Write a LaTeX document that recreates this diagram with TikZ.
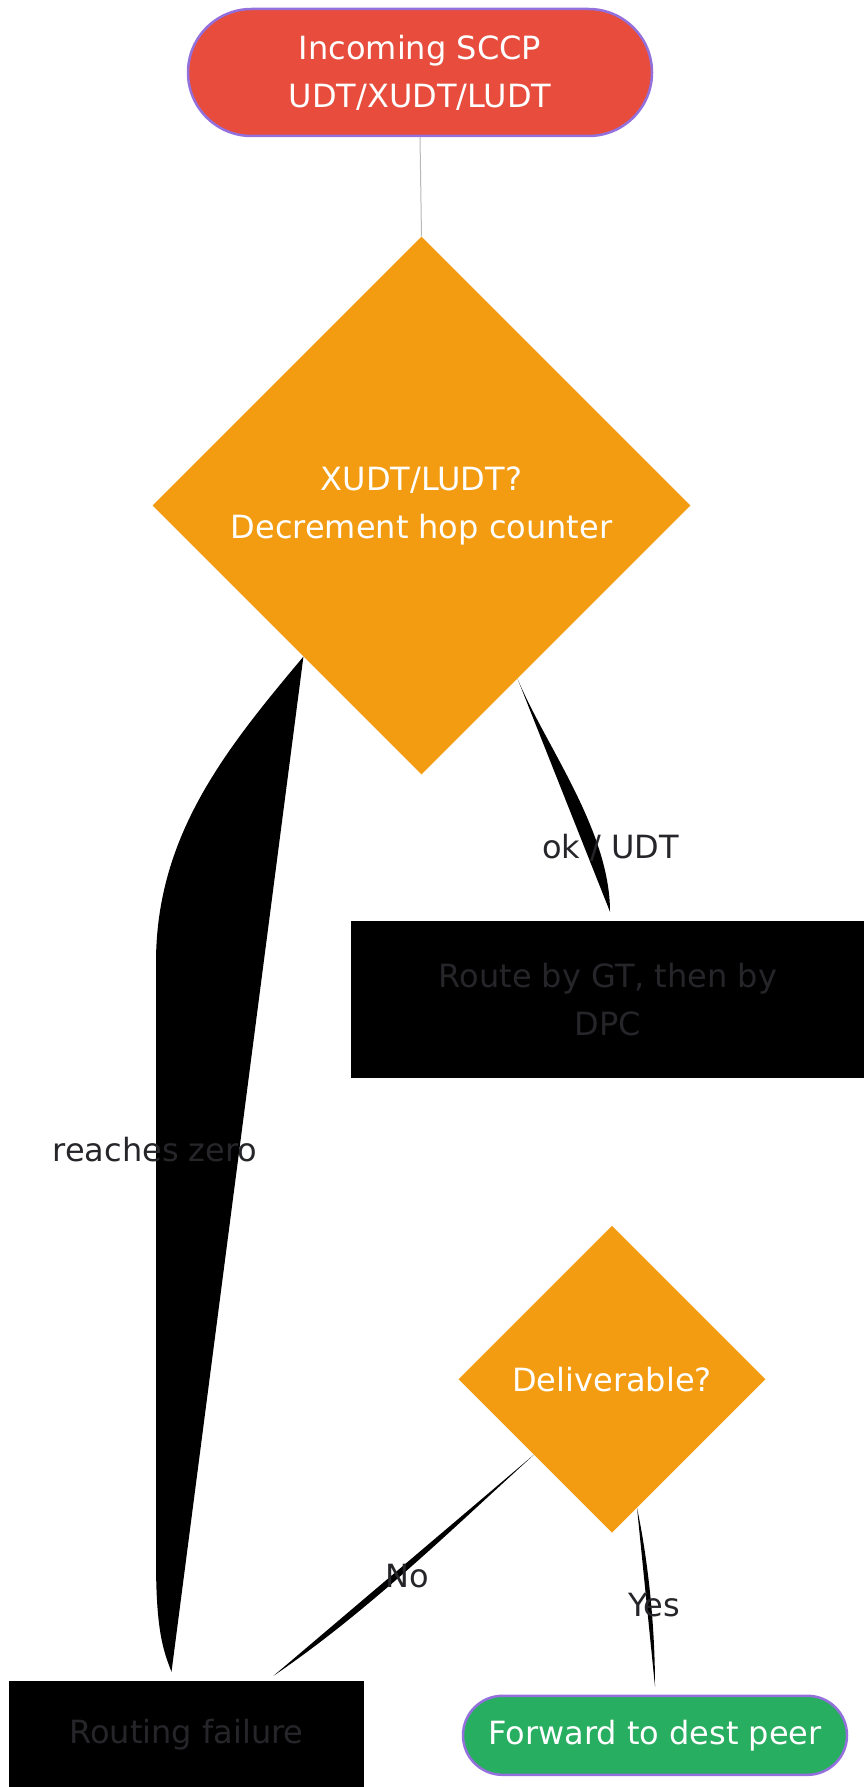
\documentclass[tikz,border=0pt]{standalone}
\usepackage{fontspec}
\setmainfont{DejaVu Sans}
\usetikzlibrary{shapes.geometric,calc}
\definecolor{startred}{HTML}{E74C3C}
\definecolor{decorange}{HTML}{F39C12}
\definecolor{okgreen}{HTML}{27AE60}
\definecolor{rimpurple}{HTML}{9370DB}
\definecolor{inktext}{HTML}{26262A}
\begin{document}
\begin{tikzpicture}[x=1pt,y=-1pt,
  every node/.style={font=\fontsize{32}{48}\selectfont, inner sep=0pt},
  terminal/.style={rectangle, rounded corners=#1, draw=rimpurple, line width=2.5pt,
                   text=white, align=center},
  decision/.style={diamond, fill=decorange, text=white, align=center,
                   minimum width=#1, minimum height=#1},
  procbox/.style={rectangle, fill=black, text=inktext, align=center},
  edgefill/.style={fill=black},
  edgelabel/.style={text=inktext, anchor=base},
]
\useasboundingbox (0,0) rectangle (863,1787);

% nodes
\node[terminal=63.5pt, fill=startred, minimum width=464pt, minimum height=127pt]
  (start) at (420,72.5) {Incoming SCCP\\UDT/XUDT/LUDT};
\node[decision=538pt] (hop) at (421.5,505.5) {XUDT/LUDT?\\Decrement hop counter};
\node[procbox, minimum width=514pt, minimum height=157pt]
  (route) at (608,999.5) {Route by GT, then by\\DPC};
\node[decision=307pt] (deliv) at (612,1379.3) {Deliverable?};
\node[procbox, minimum width=355pt, minimum height=108pt]
  (fail) at (186.5,1735) {Routing failure};
\node[terminal=39.5pt, fill=okgreen, minimum width=384pt, minimum height=79pt]
  (fwd) at (655,1735.3) {Forward to dest peer};

% connectors
\draw[gray!55, line width=1pt] (start.south) -- (hop.north);

\fill[edgefill] (hop.-61.3) .. controls (545,745) and (610,830) ..
  ($(route.north)+(2,-9)$) -- cycle;

\fill[edgefill] (hop.-128) .. controls (225,750) and (157,835) .. (156,960)
  -- (156,1560) .. controls (156,1630) and (163,1650) ..
  ($(fail.north)+(-15,-9)$) -- cycle;

\fill[edgefill] (deliv.-136) .. controls (448,1533) and (367,1612) ..
  ($(fail.north)+(87,-5)$) -- cycle;

\fill[edgefill] (deliv.-79.6) .. controls (648,1560) and (655,1625) ..
  ($(fwd.north)+(0,-8)$) -- cycle;

% connector labels
\node[edgelabel] (lok) at (610.5,858.3) {ok / UDT};
\node[edgelabel] (lzero) at (155,1161.7) {reaches zero};
\node[edgelabel] (lno) at (407,1587.7) {No};
\node[edgelabel] (lyes) at (654.3,1616.7) {Yes};
\end{tikzpicture}
\end{document}
